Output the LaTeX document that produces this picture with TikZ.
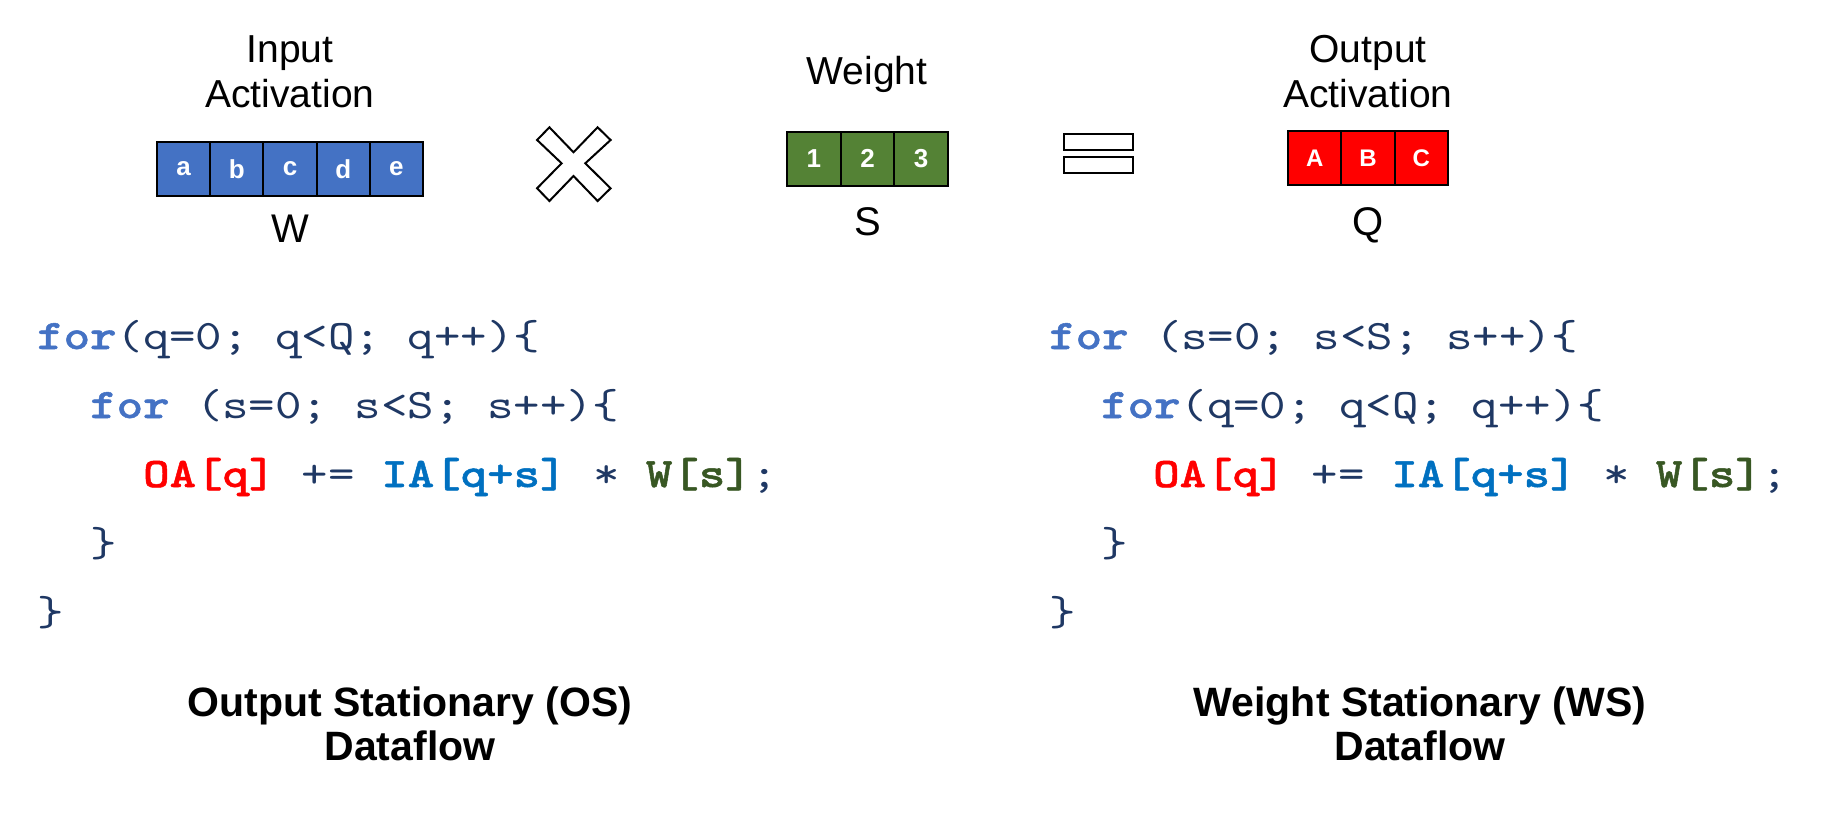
\documentclass[tikz,border=0pt]{standalone}
\usepackage{fontspec}
\setmainfont{Liberation Sans}
\newfontfamily\codefont{lmmono10-regular.otf}[BoldFont=lmmonolt10-bold.otf, BoldFeatures={FakeBold=1.2}, FakeStretch=1.2, WordSpace={1,0,0}]
\definecolor{iablue}{HTML}{4472C4}
\definecolor{wgreen}{HTML}{548235}
\definecolor{oared}{HTML}{FF0000}
\definecolor{navy}{HTML}{1F3864}
\definecolor{kwblue}{HTML}{4472C4}
\definecolor{iacode}{HTML}{0070C0}
\definecolor{wcode}{HTML}{385723}
\newcommand\kw[1]{{\bfseries\color{kwblue}#1}}
\newcommand\oa[1]{{\bfseries\color{oared}#1}}
\newcommand\ia[1]{{\bfseries\color{iacode}#1}}
\newcommand\wc[1]{{\bfseries\color{wcode}#1}}
\tikzset{
  cell/.style={draw=black, line width=2pt, minimum height=54pt, inner sep=0pt,
    text=white, font=\fontsize{26}{26}\selectfont\bfseries},
  bluecell/.style={cell, fill=iablue, minimum width=53.2pt},
  greencell/.style={cell, fill=wgreen, minimum width=53.67pt},
  redcell/.style={cell, fill=oared, minimum width=53.33pt, font=\fontsize{24}{24}\selectfont\bfseries},
  title/.style={anchor=base, inner sep=0pt, font=\fontsize{39}{45}\selectfont},
  dimlabel/.style={anchor=base, inner sep=0pt, font=\fontsize{40}{40}\selectfont},
  codeline/.style={anchor=base west, inner sep=0pt, text=navy,
    font=\codefont\fontsize{42}{42}\selectfont\frenchspacing},
  caption/.style={anchor=base, inner sep=0pt, font=\fontsize{41}{41}\selectfont\bfseries},
  symbol/.style={draw=black, line width=2pt, fill=white}
}
\begin{document}
\begin{tikzpicture}[x=1pt, y=-1pt]
\useasboundingbox (0,0) rectangle (1844,822);

% Input activation
\node[title] (iat1) at (290,62) {Input};
\node[title] (iat2) at (290,107) {Activation};
\node[bluecell] (ia1) at (183.6,169) {a};
\node[bluecell] (ia2) at (236.8,169) {b};
\node[bluecell] (ia3) at (290,169) {c};
\node[bluecell] (ia4) at (343.2,169) {d};
\node[bluecell] (ia5) at (396.4,169) {e};
\node[dimlabel] (wlab) at (290,242) {W};

% times symbol
\draw[symbol] (537.1,140) -- (549.4,127.3) -- (573.5,152.3) -- (597.6,127.3) -- (610.6,140)
  -- (585.3,163.3) -- (610.6,188.3) -- (597.6,201) -- (573.5,176) -- (549.4,201)
  -- (537.1,188.3) -- (561.6,163.3) -- cycle;

% Weight
\node[title] (wt) at (867,84) {Weight};
\node[greencell] (w1) at (813.8,158.5) {1};
\node[greencell] (w2) at (867.5,158.5) {2};
\node[greencell] (w3) at (921.2,158.5) {3};
\node[dimlabel] (slab) at (867.5,235) {S};

% equals symbol
\draw[symbol] (1064,134.3) rectangle (1133,149.5);
\draw[symbol] (1064,156.7) rectangle (1133,172.7);

% Output activation
\node[title] (oat1) at (1368,62) {Output};
\node[title] (oat2) at (1368,107) {Activation};
\node[redcell] (oa1) at (1314.7,158) {A};
\node[redcell] (oa2) at (1368,158) {B};
\node[redcell] (oa3) at (1421.3,158) {C};
\node[dimlabel] (qlab) at (1368,235) {Q};

% OS code
\node[codeline] (os1) at (37,349) {\kw{for}(q=0; q<Q; q++)\{};
\node[codeline] (os2) at (90,418) {\kw{for} (s=0; s<S; s++)\{};
\node[codeline] (os3) at (143,487) {\oa{OA[q]} += \ia{IA[q+s]} * \wc{W[s]};};
\node[codeline] (os4) at (90,556) {\}};
\node[codeline] (os5) at (37,625) {\}};

% WS code
\node[codeline] (ws1) at (1049,349) {\kw{for} (s=0; s<S; s++)\{};
\node[codeline] (ws2) at (1101,418) {\kw{for}(q=0; q<Q; q++)\{};
\node[codeline] (ws3) at (1153,487) {\oa{OA[q]} += \ia{IA[q+s]} * \wc{W[s]};};
\node[codeline] (ws4) at (1101,556) {\}};
\node[codeline] (ws5) at (1049,625) {\}};

% captions
\node[caption] (osc1) at (410,716) {Output Stationary (OS)};
\node[caption] (osc2) at (410,760) {Dataflow};
\node[caption] (wsc1) at (1420,716) {Weight Stationary (WS)};
\node[caption] (wsc2) at (1420,760) {Dataflow};
\end{tikzpicture}
\end{document}
